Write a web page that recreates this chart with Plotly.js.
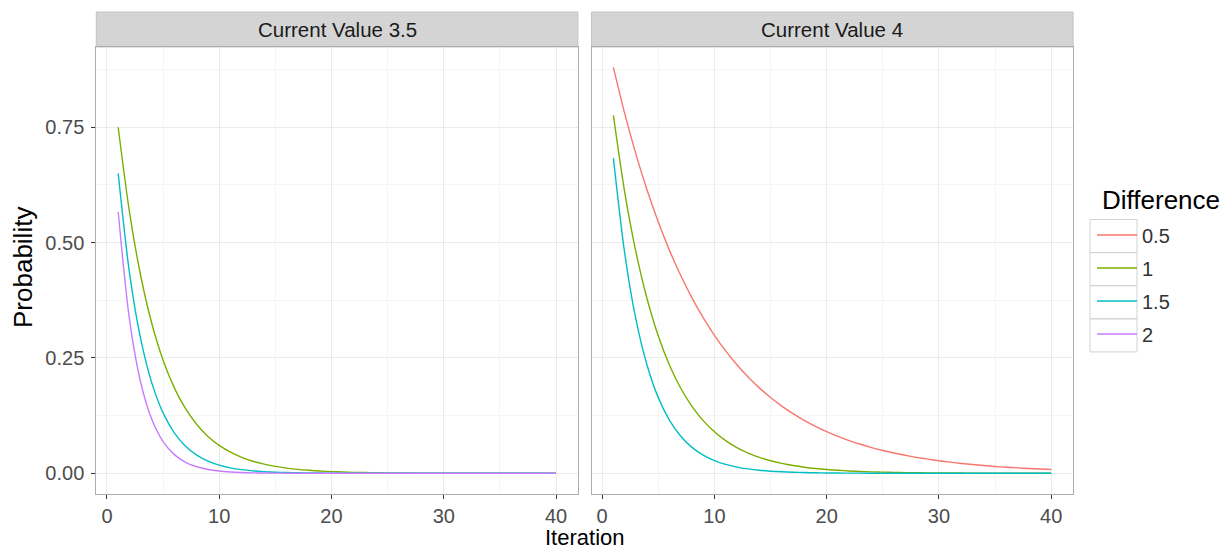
<!DOCTYPE html>
<html><head><meta charset="utf-8">
<script src="https://cdn.plot.ly/plotly-3.0.1.min.js"></script>
<style>html,body{margin:0;padding:0;background:#fff}#chart{width:1229px;height:549px}</style>
</head><body><div id="chart"></div>
<script>
const iteration = [1,2,3,4,5,6,7,8,9,10,11,12,13,14,15,16,17,18,19,20,21,22,23,24,25,26,27,28,29,30,31,32,33,34,35,36,37,38,39,40];
const facetLabels = ["Current Value 3.5", "Current Value 4"];
const differenceLevels = ["0.5", "1", "1.5", "2"];
const xTickValues = [0, 10, 20, 30, 40];
const yTickValues = [0, 0.25, 0.5, 0.75];

// Current Value 3.5
const cv35_diff1 = [0.7500,0.5670,0.4287,0.3241,0.2450,0.1852,0.1400,0.1059,0.0800,0.0605,
  0.0457,0.0346,0.0261,0.0198,0.0149,0.0113,0.0085,0.0065,0.0049,0.0037,
  0.0028,0.0021,0.0016,0.0012,0.0009,0.0007,0.0005,0.0004,0.0003,0.0002,
  0.0002,0.0001,0.0001,0.0001,0.0001,0.0000,0.0000,0.0000,0.0000,0.0000];
const cv35_diff15 = [0.6500,0.4355,0.2918,0.1955,0.1310,0.0878,0.0588,0.0394,0.0264,0.0177,
  0.0118,0.0079,0.0053,0.0036,0.0024,0.0016,0.0011,0.0007,0.0005,0.0003,
  0.0002,0.0001,0.0001,0,0,0,0,0,0,0,
  0,0,0,0,0,0,0,0,0,0];
const cv35_diff2 = [0.5670,0.3345,0.1974,0.1165,0.0687,0.0405,0.0239,0.0141,0.0083,0.0049,
  0.0029,0.0017,0.0010,0.0006,0.0004,0.0002,0.0001,0.0001,0,0,
  0,0,0,0,0,0,0,0,0,0,
  0,0,0,0,0,0,0,0,0,0];
// Current Value 4
const cv4_diff05 = [0.8800,0.7806,0.6924,0.6141,0.5447,0.4832,0.4286,0.3802,0.3372,0.2991,
  0.2653,0.2353,0.2087,0.1852,0.1642,0.1457,0.1292,0.1146,0.1017,0.0902,
  0.0800,0.0710,0.0629,0.0558,0.0495,0.0439,0.0390,0.0346,0.0307,0.0272,
  0.0241,0.0214,0.0190,0.0168,0.0149,0.0132,0.0117,0.0104,0.0092,0.0082];
const cv4_diff1 = [0.7760,0.6107,0.4806,0.3783,0.2977,0.2343,0.1844,0.1451,0.1142,0.0899,
  0.0707,0.0557,0.0438,0.0345,0.0271,0.0214,0.0168,0.0132,0.0104,0.0082,
  0.0065,0.0051,0.0040,0.0031,0.0025,0.0019,0.0015,0.0012,0.0010,0.0008,
  0.0006,0.0005,0.0004,0.0003,0.0002,0.0002,0.0001,0.0001,0.0001,0.0001];
const cv4_diff15 = [0.6830,0.4781,0.3347,0.2343,0.1640,0.1148,0.0804,0.0562,0.0394,0.0276,
  0.0193,0.0135,0.0095,0.0066,0.0046,0.0032,0.0023,0.0016,0.0011,0.0008,
  0.0005,0.0004,0.0003,0.0002,0.0001,0.0001,0.0001,0,0,0,
  0,0,0,0,0,0,0,0,0,0];

const colors = {"0.5": "#F8766D", "1": "#7CAE00", "1.5": "#00BFC4", "2": "#C77CFF"};
const FONT = "Liberation Sans, Arial, sans-serif";

function tr(y, level, xa, ya, show) {
  return {
    x: iteration, y: y, type: "scatter", mode: "lines",
    name: level, legendgroup: level, showlegend: show,
    xaxis: xa, yaxis: ya,
    line: {color: colors[level], width: 1.4, shape: "spline", smoothing: 0.8},
    hoverinfo: "x+y+name"
  };
}

const data = [
  tr(cv4_diff05, differenceLevels[0], "x2", "y2", true),
  tr(cv35_diff1, differenceLevels[1], "x", "y", true),
  tr(cv4_diff1, differenceLevels[1], "x2", "y2", false),
  tr(cv35_diff15, differenceLevels[2], "x", "y", true),
  tr(cv4_diff15, differenceLevels[2], "x2", "y2", false),
  tr(cv35_diff2, differenceLevels[3], "x", "y", true)
];

const W = 1229, H = 549;
const px = v => v / W;
const py = v => (H - v) / H;
const leftDom = [px(96.3), px(577.9)];
const rightDom = [px(591.5), px(1073.1)];
const yDom = [py(493.6), py(47)];

const gridC = "#EBEBEB";
function xaxis(dom, anchor) {
  return {
    domain: dom, anchor: anchor, range: [-0.95, 41.95],
    tickmode: "array", tickvals: xTickValues, ticktext: xTickValues.map(String),
    ticks: "outside", ticklen: 4, tickwidth: 1, tickcolor: "#333333",
    tickfont: {family: FONT, size: 20, color: "#4D4D4D"},
    ticklabelstandoff: 0,
    showgrid: true, gridcolor: gridC, gridwidth: 1,
    minor: {tickmode: "array", tickvals: [5, 15, 25, 35], showgrid: true, gridcolor: "#F3F3F3", gridwidth: 0.8, ticks: ""},
    zeroline: false, showline: true, mirror: true, linecolor: "#ADADAD", linewidth: 1,
    fixedrange: true
  };
}
function yaxis(anchor, labels) {
  return {
    domain: yDom, anchor: anchor, range: [-0.044, 0.924],
    tickmode: "array", tickvals: yTickValues, ticktext: yTickValues.map(v => v.toFixed(2)),
    showticklabels: labels,
    ticks: labels ? "outside" : "", ticklen: 4, tickwidth: 1, tickcolor: "#333333",
    tickfont: {family: FONT, size: 20, color: "#4D4D4D"},
    ticklabelstandoff: 3,
    showgrid: true, gridcolor: gridC, gridwidth: 1,
    minor: {tickmode: "array", tickvals: [0.125, 0.375, 0.625, 0.875], showgrid: true, gridcolor: "#F3F3F3", gridwidth: 0.8, ticks: ""},
    zeroline: false, showline: true, mirror: true, linecolor: "#ADADAD", linewidth: 1,
    fixedrange: true
  };
}

const keyTop = 219.5, keyH = 33.1;
const keyShapes = [0, 1, 2, 3].map(i => ({
  type: "rect", xref: "paper", yref: "paper",
  x0: px(1090), x1: px(1137), y0: py(keyTop + (i + 1) * keyH), y1: py(keyTop + i * keyH),
  fillcolor: "rgba(0,0,0,0)", line: {color: "#D2D2D2", width: 1}, layer: "below"
}));

const layout = {
  width: W, height: H,
  margin: {l: 0, r: 0, t: 0, b: 0},
  paper_bgcolor: "#ffffff", plot_bgcolor: "#ffffff",
  font: {family: FONT, color: "#1A1A1A"},
  showlegend: true,
  xaxis: xaxis(leftDom, "y"),
  xaxis2: xaxis(rightDom, "y2"),
  yaxis: yaxis("x", true),
  yaxis2: Object.assign(yaxis("x2", false), {matches: "y"}),
  legend: {
    x: px(1092), y: py(215.5), xanchor: "left", yanchor: "top",
    font: {family: FONT, size: 20, color: "#333333"},
    itemwidth: 40,
    tracegroupgap: 4, bgcolor: "rgba(0,0,0,0)", borderwidth: 0,
    itemclick: false, itemdoubleclick: false
  },
  shapes: [
    {type: "rect", xref: "paper", yref: "paper", x0: leftDom[0], x1: leftDom[1], y0: py(47), y1: py(12),
     fillcolor: "#D4D4D4", line: {color: "#C4C4C4", width: 1}, layer: "below"},
    {type: "rect", xref: "paper", yref: "paper", x0: rightDom[0], x1: rightDom[1], y0: py(47), y1: py(12),
     fillcolor: "#D4D4D4", line: {color: "#C4C4C4", width: 1}, layer: "below"}
  ].concat(keyShapes),
  annotations: [
    {text: facetLabels[0], xref: "paper", yref: "paper", x: (leftDom[0] + leftDom[1]) / 2, y: py(29.5),
     showarrow: false, xanchor: "center", yanchor: "middle", font: {family: FONT, size: 20.5, color: "#1A1A1A"}},
    {text: facetLabels[1], xref: "paper", yref: "paper", x: (rightDom[0] + rightDom[1]) / 2, y: py(29.5),
     showarrow: false, xanchor: "center", yanchor: "middle", font: {family: FONT, size: 20.5, color: "#1A1A1A"}},
    {text: "Iteration", xref: "paper", yref: "paper", x: (leftDom[0] + rightDom[1]) / 2, y: py(537),
     showarrow: false, xanchor: "center", yanchor: "middle", font: {family: FONT, size: 22, color: "#000000"}},
    {text: "Probability", xref: "paper", yref: "paper", x: px(23), y: py(268), textangle: -90,
     showarrow: false, xanchor: "center", yanchor: "middle", font: {family: FONT, size: 26, color: "#000000"}},
    {text: "Difference", xref: "paper", yref: "paper", x: px(1100), y: py(200),
     showarrow: false, xanchor: "left", yanchor: "middle", font: {family: FONT, size: 26, color: "#000000"}}
  ]
};

Plotly.newPlot("chart", data, layout, {displayModeBar: false, staticPlot: true});
</script>
</body></html>
